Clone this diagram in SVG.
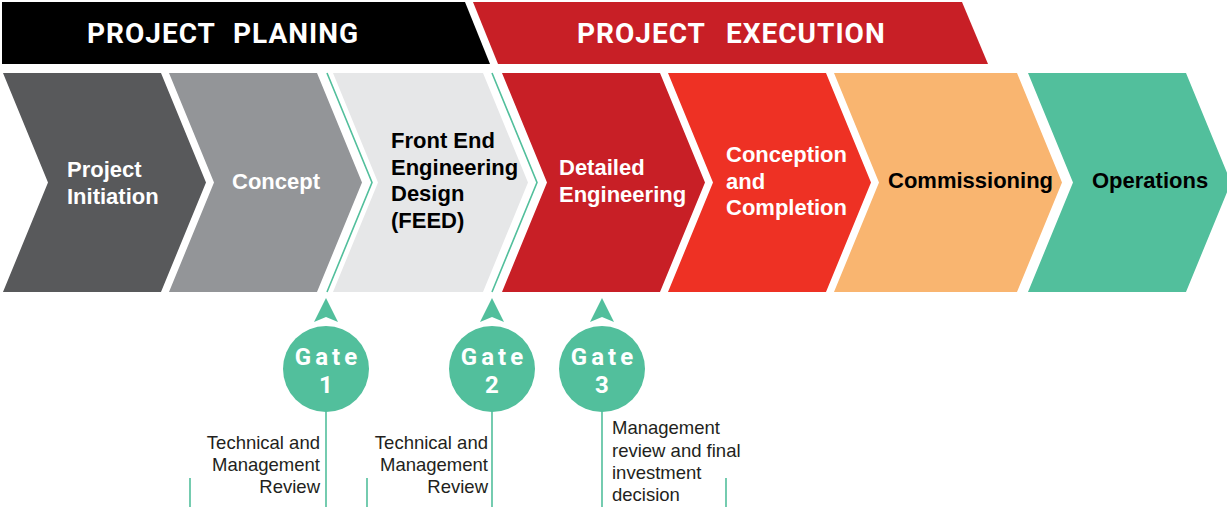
<svg xmlns="http://www.w3.org/2000/svg" width="1227" height="507" viewBox="0 0 1227 507">
<style>
.banner{font-family:Roboto,"Liberation Sans",sans-serif;font-weight:bold;font-size:28px;letter-spacing:1px;fill:#fff}
.lbl{font-family:"Liberation Sans",Arial,sans-serif;font-weight:bold;font-size:22px}
.w{fill:#fff}
.k{fill:#000}
.gate{font-family:Roboto,"Liberation Sans",sans-serif;font-weight:bold;font-size:24px;letter-spacing:4px;fill:#fff;text-anchor:middle}
.note{font-family:"Liberation Sans",Arial,sans-serif;font-size:18.5px;fill:#231f20}
.gl{fill:none;stroke:#52bf9c;stroke-width:1.6}
.gf{fill:#52bf9c}
</style>
<rect width="1227" height="507" fill="#fff"/>
<g id="banner-planning">
<polygon points="2,2 465,2 490,64 2,64" fill="#000"/>
<text class="banner" x="87" y="43">PROJECT<tspan x="233">PLANING</tspan></text>
</g>
<g id="banner-execution">
<polygon points="473,2 962,2 988,64 498,64" fill="#c81f26"/>
<text class="banner" x="577" y="43">PROJECT<tspan x="726">EXECUTION</tspan></text>
</g>
<g id="node-initiation">
<polygon points="3,73 161,73 206,182.5 161,292 3,292 48,182.5" fill="#58595b"/>
<text class="lbl w" x="67" y="177">Project<tspan x="67" y="204">Initiation</tspan></text>
</g>
<g id="node-concept">
<polygon points="169,73 317,73 362,182.5 317,292 169,292 214,182.5" fill="#939598"/>
<text class="lbl w" x="232" y="189">Concept</text>
</g>
<g id="node-feed">
<polygon points="333,73 483,73 528,182.5 483,292 333,292 378,182.5" fill="#e6e7e8"/>
<text class="lbl k" x="391" y="148">Front End<tspan x="391" y="174.5">Engineering</tspan><tspan x="391" y="201">Design</tspan><tspan x="391" y="227.5">(FEED)</tspan></text>
</g>
<g id="node-detailed">
<polygon points="502,73 660,73 705,182.5 660,292 502,292 547,182.5" fill="#c81f26"/>
<text class="lbl w" x="559" y="175">Detailed<tspan x="559" y="202">Engineering</tspan></text>
</g>
<g id="node-conception">
<polygon points="668,73 826,73 871,182.5 826,292 668,292 713,182.5" fill="#ee3124"/>
<text class="lbl w" x="726" y="162">Conception<tspan x="726" y="188.5">and</tspan><tspan x="726" y="215">Completion</tspan></text>
</g>
<g id="node-commissioning">
<polygon points="834,73 1017,73 1062,182.5 1017,292 834,292 879,182.5" fill="#f9b570"/>
<text class="lbl k" x="888" y="188">Commissioning</text>
</g>
<g id="node-operations">
<polygon points="1028,73 1186,73 1231,182.5 1186,292 1028,292 1073,182.5" fill="#52bf9c"/>
<text class="lbl k" x="1092" y="188">Operations</text>
</g>
<g id="connectors">
<polyline class="gl" points="327,73 372,182.5 327,292"/>
<polyline class="gl" points="492,73 537,182.5 492,292"/>
<polygon class="gf" points="326,298 338,322 326,317 314,322"/>
<polygon class="gf" points="492,298 504,322 492,317 480,322"/>
<polygon class="gf" points="602,298 614,322 602,317 590,322"/>
<line class="gl" x1="326" y1="410" x2="326" y2="507"/>
<line class="gl" x1="492" y1="410" x2="492" y2="507"/>
<line class="gl" x1="602" y1="410" x2="602" y2="507"/>
<line class="gl" x1="190" y1="478" x2="190" y2="507"/>
<line class="gl" x1="367" y1="478" x2="367" y2="507"/>
<line class="gl" x1="726" y1="478" x2="726" y2="507"/>
</g>
<g id="gate-1">
<circle class="gf" cx="326" cy="369" r="43"/>
<text class="gate" x="328" y="364.5">Gate</text>
<text class="gate" x="328" y="393">1</text>
</g>
<g id="gate-2">
<circle class="gf" cx="492" cy="369" r="43"/>
<text class="gate" x="494" y="364.5">Gate</text>
<text class="gate" x="494" y="393">2</text>
</g>
<g id="gate-3">
<circle class="gf" cx="602" cy="369" r="43"/>
<text class="gate" x="604" y="364.5">Gate</text>
<text class="gate" x="604" y="393">3</text>
</g>
<g id="note-1">
<text class="note" text-anchor="end" x="320" y="449">Technical and<tspan x="320" y="471">Management</tspan><tspan x="320" y="493">Review</tspan></text>
</g>
<g id="note-2">
<text class="note" text-anchor="end" x="488" y="449">Technical and<tspan x="488" y="471">Management</tspan><tspan x="488" y="493">Review</tspan></text>
</g>
<g id="note-3">
<text class="note" x="612" y="434">Management<tspan x="612" y="456.5">review and final</tspan><tspan x="612" y="479">investment</tspan><tspan x="612" y="501">decision</tspan></text>
</g>
</svg>
